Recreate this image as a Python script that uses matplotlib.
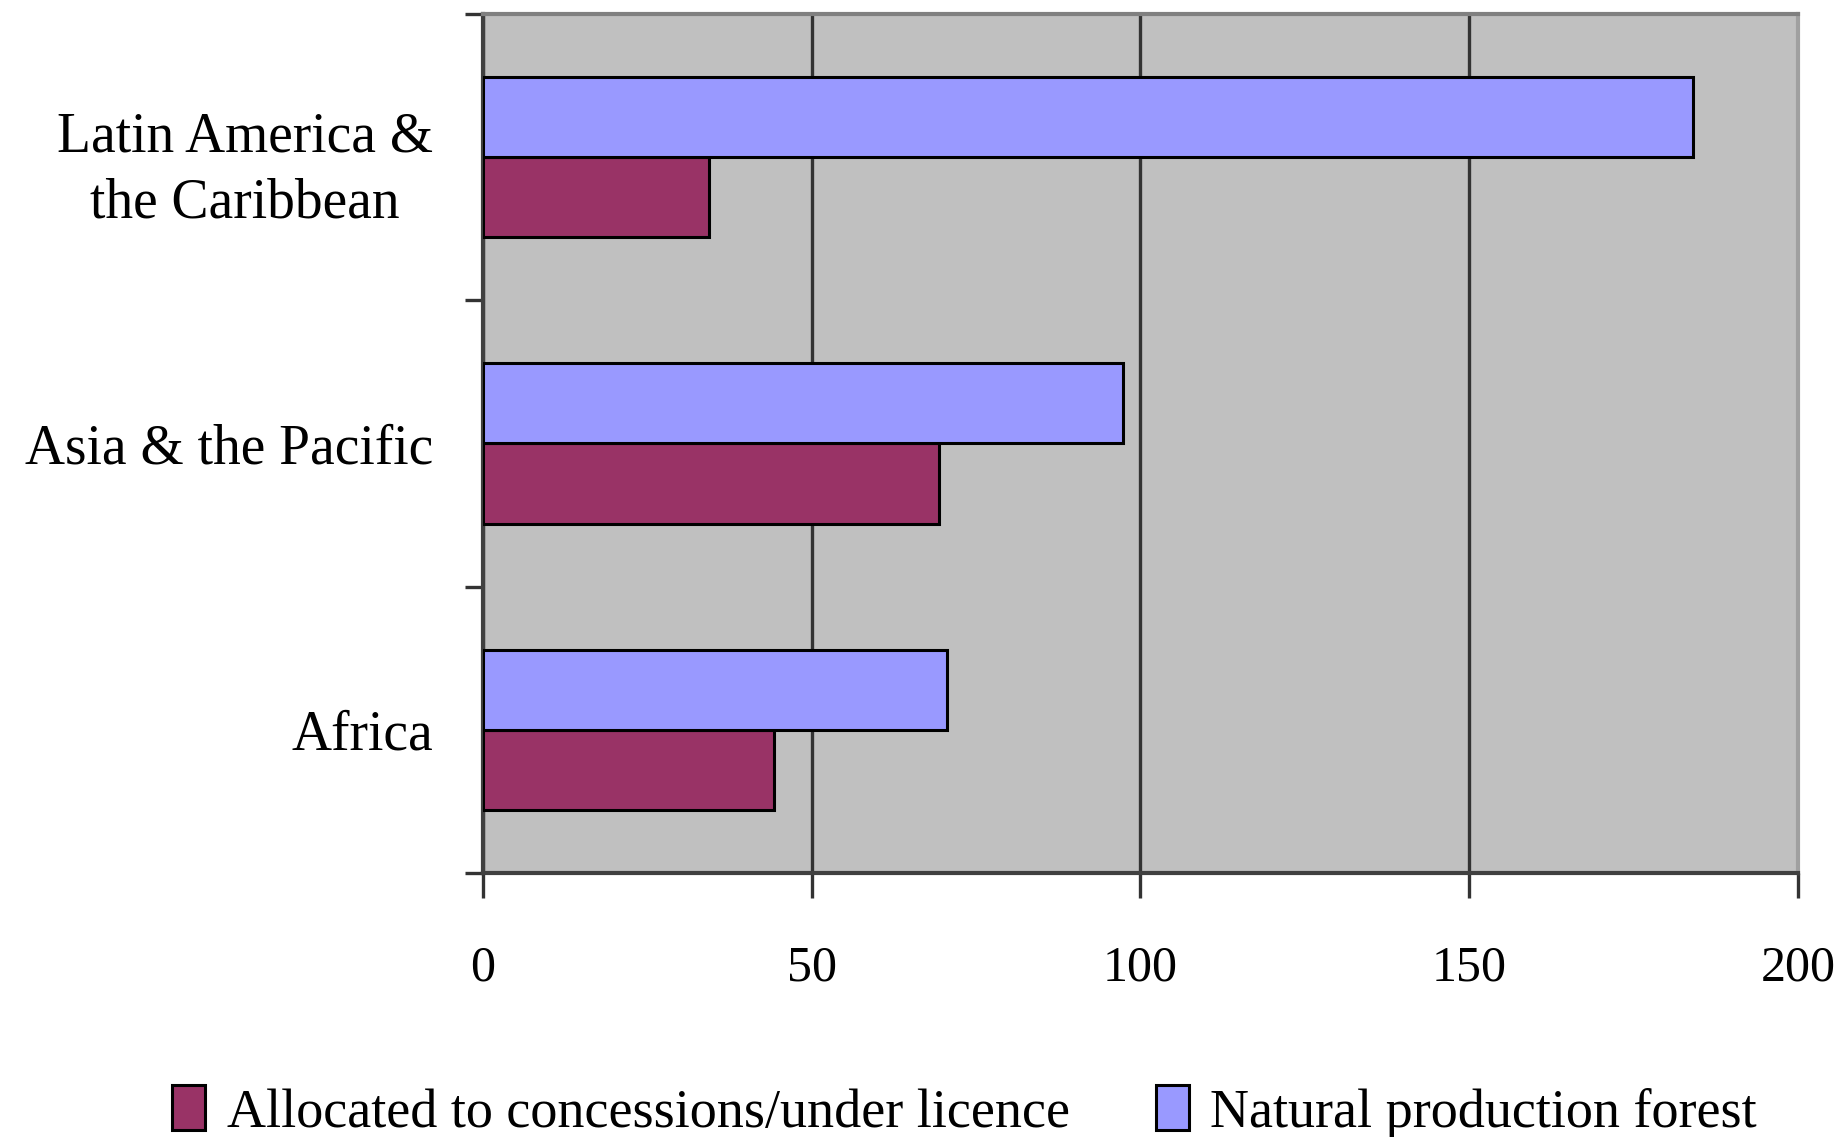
import matplotlib.pyplot as plt
import numpy as np

regions = ['Africa', 'Asia & the Pacific', 'Latin America &\nthe Caribbean']
allocated = [44.3, 69.3, 34.4]
natural = [70.6, 97.3, 184.0]
xticks = [0, 50, 100, 150, 200]

plt.rcParams['font.family'] = ['Liberation Serif', 'DejaVu Serif']

fig = plt.figure(figsize=(18.41, 11.37), dpi=100)
ax = fig.add_axes([0.2624, 0.2322, 0.7142, 0.7555])
ax.set_facecolor('#c0c0c0')

y = np.arange(len(regions))
h = 0.28
ax.barh(y - h / 2, allocated, height=h, color='#993366', edgecolor='black',
        linewidth=2.2, label='Allocated to concessions/under licence', zorder=3)
ax.barh(y + h / 2, natural, height=h, color='#9999ff', edgecolor='black',
        linewidth=2.2, label='Natural production forest', zorder=3)

ax.set_xlim(0, 200)
ax.set_ylim(-0.5, 2.5)
ax.set_xticks(xticks)
ax.set_xticklabels([str(t) for t in xticks], fontsize=36)
ax.xaxis.grid(True, color='#333333', linewidth=2.4, zorder=1)

ax.set_yticks(y)
ax.set_yticklabels(regions, fontsize=40, multialignment='center',
                   linespacing=1.35)
ax.set_yticks([-0.5, 0.5, 1.5, 2.5], minor=True)
ax.tick_params(axis='y', which='major', length=0, pad=36)
ax.tick_params(axis='y', which='minor', length=13, width=2.4, color='#333333')
ax.tick_params(axis='x', length=18, width=2.4, color='#333333', pad=34)

for side in ['left', 'bottom']:
    ax.spines[side].set_color('#404040')
    ax.spines[side].set_linewidth(3)
ax.spines['top'].set_color('#808080')
ax.spines['top'].set_linewidth(3)
ax.spines['right'].set_color('#a0a0a0')
ax.spines['right'].set_linewidth(3)

handles, labels = ax.get_legend_handles_labels()
fig.legend(handles, labels, loc='center', bbox_to_anchor=(0.524, 0.022),
           ncol=2, frameon=False, fontsize=39, handlelength=0.6,
           handleheight=0.9, handletextpad=0.4, columnspacing=1.6)

fig.savefig('out.png', dpi=100)
